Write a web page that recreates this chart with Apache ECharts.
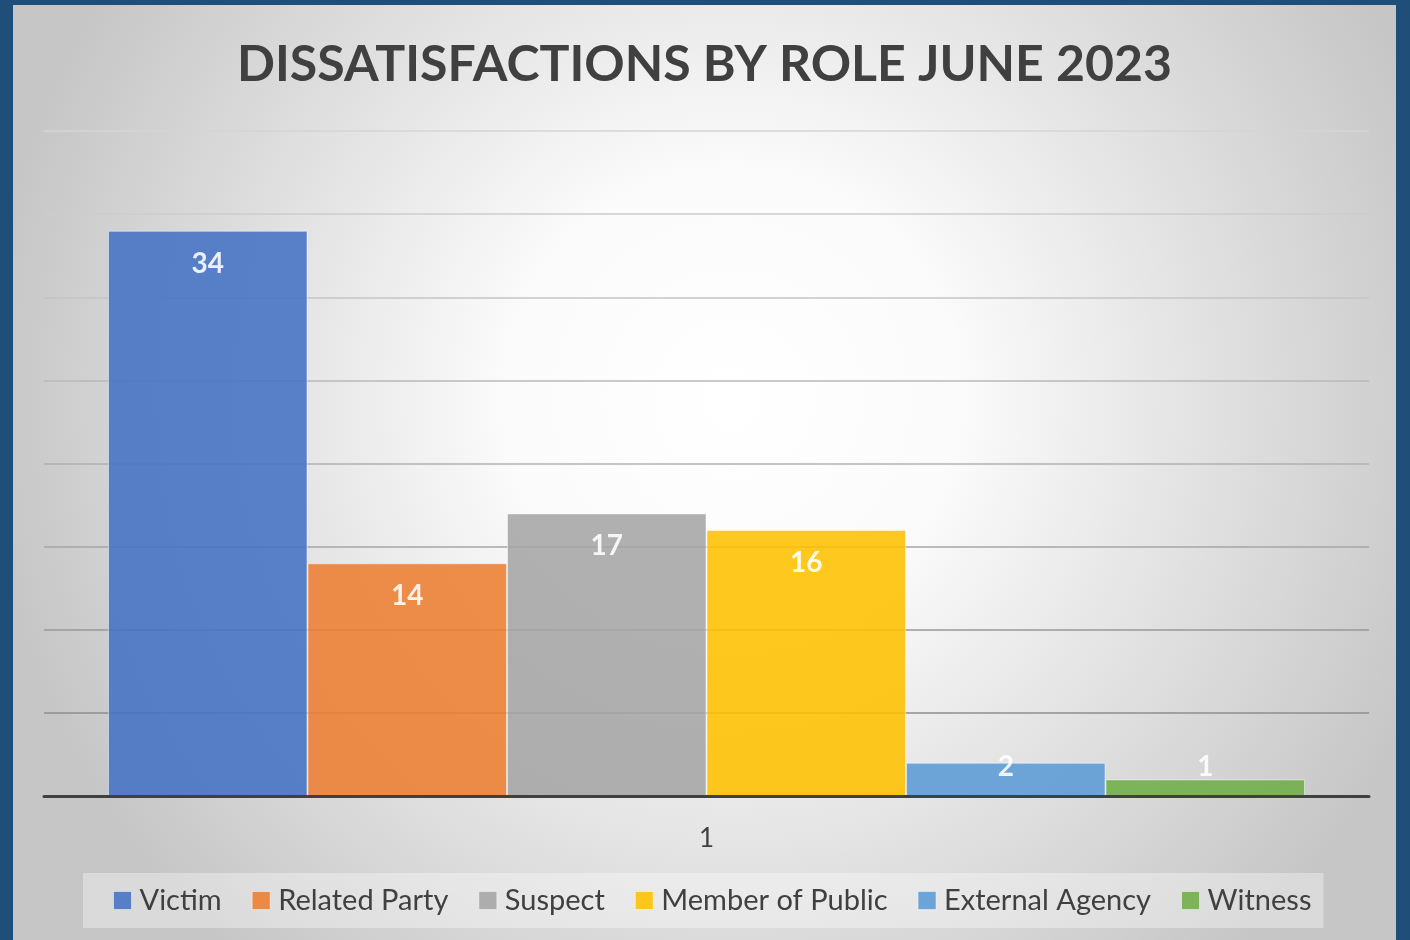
<!DOCTYPE html>
<html>
<head>
<meta charset="utf-8">
<script src="https://cdn.jsdelivr.net/npm/echarts@6/dist/echarts.min.js"></script>
<style>
  html, body { margin: 0; padding: 0; width: 1410px; height: 940px; background: #1F4E79; overflow: hidden; }
  #chart { position: absolute; left: 13px; top: 5px; width: 1383px; height: 935px; }
</style>
</head>
<body>
<div id="chart"></div>
<script>
const titleText = 'DISSATISFACTIONS BY ROLE JUNE 2023';
const categories = ['1'];
const seriesNames = ['Victim', 'Related Party', 'Suspect', 'Member of Public', 'External Agency', 'Witness'];
const seriesValues = [[34], [14], [17], [16], [2], [1]];
const seriesColors = ['#4472C4', '#ED7D31', '#A5A5A5', '#FFC000', '#5B9BD5', '#70AD47'];
const yMin = 0, yMax = 40, yInterval = 5;
const gridLineColors = ['#808080', '#8e8e8e', '#999999', '#a6a6a6', '#b0b0b0', '#b8b8b8', '#c4c4c4', '#cccccc', '#d4d4d4'];

const FONT = 'Lato, "Open Sans", sans-serif';
const chart = echarts.init(document.getElementById('chart'));

const series = seriesNames.map((name, i) => {
  const small = seriesValues[i][0] < 5;
  return {
    name: name,
    type: 'bar',
    data: seriesValues[i],
    barGap: '0%',
    barCategoryGap: '9.66%',
    itemStyle: {
      color: seriesColors[i],
      opacity: 0.88,
      borderColor: 'rgba(255,255,255,0.55)',
      borderWidth: 1
    },
    label: {
      show: true,
      position: small ? 'insideBottom' : 'insideTop',
      distance: small ? 15 : 19,
      color: '#ffffff',
      fontFamily: FONT,
      fontWeight: 'bold',
      fontSize: 28
    },
    emphasis: { disabled: true }
  };
});

chart.setOption({
  animation: false,
  backgroundColor: {
    type: 'radial', x: 0.52, y: 0.42, r: 0.8,
    colorStops: [
      { offset: 0, color: '#ffffff' },
      { offset: 0.3, color: '#fbfbfb' },
      { offset: 1, color: '#c6c6c6' }
    ]
  },
  title: {
    text: titleText,
    left: 'center',
    top: 30,
    textStyle: { fontFamily: FONT, fontWeight: 'bold', fontSize: 50, color: '#404040' }
  },
  legend: {
    data: seriesNames,
    left: 70,
    top: 868,
    icon: 'rect',
    itemWidth: 18,
    itemHeight: 18,
    itemGap: 30,
    padding: [13, 12, 13, 30],
    backgroundColor: 'rgba(255,255,255,0.35)',
    textStyle: { fontFamily: FONT, fontSize: 29, color: '#404040', padding: [0, 0, 0, 3] },
    itemStyle: { opacity: 0.88, borderColor: 'rgba(255,255,255,0.55)', borderWidth: 1 }
  },
  grid: { left: 31, top: 126, width: 1325, height: 665, containLabel: false },
  xAxis: {
    type: 'category',
    data: categories,
    axisLine: { lineStyle: { color: '#404040', width: 3 } },
    axisTick: { show: false },
    axisLabel: { fontFamily: FONT, fontSize: 26, color: '#404040', margin: 30 },
    z: 5
  },
  yAxis: {
    type: 'value',
    min: yMin, max: yMax, interval: yInterval,
    axisLine: { show: false },
    axisTick: { show: false },
    axisLabel: { show: false },
    splitLine: { lineStyle: { color: gridLineColors, width: 1.5 } }
  },
  series: series
});
</script>
</body>
</html>
